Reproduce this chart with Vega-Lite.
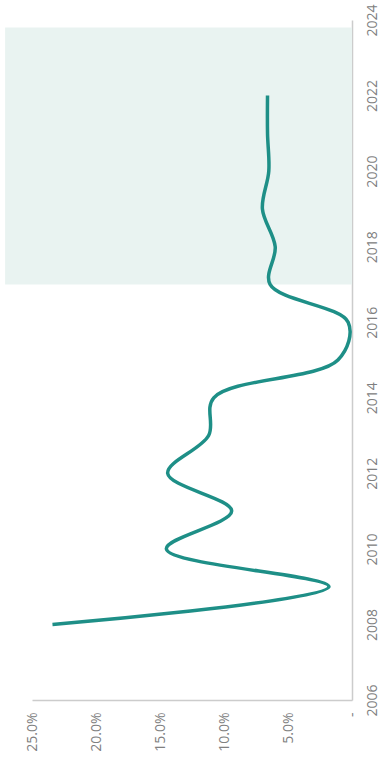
{
  "$schema": "https://vega.github.io/schema/vega-lite/v6.json",
  "width": 320,
  "height": 680,
  "autosize": "none",
  "padding": {"left": 32, "top": 20, "right": 28, "bottom": 64},
  "config": {"view": {"stroke": null}, "font": "Open Sans"},
  "datasets": {
    "shade": [{"x0": 0, "x1": 27.1, "y0": 2017, "y1": 2023.8}],
    "series": [
      {"year": 2008, "rate": 23.4},
      {"year": 2009, "rate": 1.8},
      {"year": 2010, "rate": 14.5},
      {"year": 2011, "rate": 9.4},
      {"year": 2012, "rate": 14.4},
      {"year": 2013, "rate": 11.2},
      {"year": 2014, "rate": 10.8},
      {"year": 2015, "rate": 1.1},
      {"year": 2016, "rate": 0.3},
      {"year": 2017, "rate": 6.4},
      {"year": 2018, "rate": 6.0},
      {"year": 2019, "rate": 7.0},
      {"year": 2020, "rate": 6.5},
      {"year": 2021, "rate": 6.6},
      {"year": 2022, "rate": 6.6}
    ]
  },
  "layer": [
    {
      "data": {"name": "shade"},
      "mark": {"type": "rect", "color": "#e9f3f1"},
      "encoding": {
        "x": {
          "field": "x0", "type": "quantitative",
          "scale": {"domain": [0, 25], "reverse": true, "nice": false},
          "axis": {
            "title": null, "orient": "bottom", "values": [0, 5, 10, 15, 20, 25],
            "labelExpr": "datum.value == 0 ? '-' : format(datum.value, '.1f') + '%'",
            "labelAngle": 270, "labelAlign": "right", "labelBaseline": "middle",
            "ticks": false, "tickSize": 0, "labelPadding": 12, "grid": false,
            "domainColor": "#cccccc", "domainWidth": 1.5,
            "labelColor": "#808080", "labelFontSize": 14, "labelFont": "Open Sans"
          }
        },
        "x2": {"field": "x1"},
        "y": {
          "field": "y0", "type": "quantitative",
          "scale": {"domain": [2006, 2024], "nice": false, "zero": false},
          "axis": {
            "title": null, "orient": "right", "values": [2006, 2008, 2010, 2012, 2014, 2016, 2018, 2020, 2022, 2024],
            "format": "d", "labelAngle": 270, "labelAlign": "center", "labelBaseline": "top",
            "ticks": false, "tickSize": 0, "labelPadding": 13, "grid": false,
            "domainColor": "#cccccc", "domainWidth": 1.5,
            "labelColor": "#808080", "labelFontSize": 14, "labelFont": "Open Sans",
            "labelOverlap": false
          }
        },
        "y2": {"field": "y1"}
      }
    },
    {
      "data": {"name": "series"},
      "mark": {"type": "line", "interpolate": "catmull-rom", "strokeWidth": 3.5, "color": "#1e8f87"},
      "encoding": {
        "x": {"field": "rate", "type": "quantitative"},
        "y": {"field": "year", "type": "quantitative"},
        "order": {"field": "year", "type": "quantitative"}
      }
    }
  ]
}
